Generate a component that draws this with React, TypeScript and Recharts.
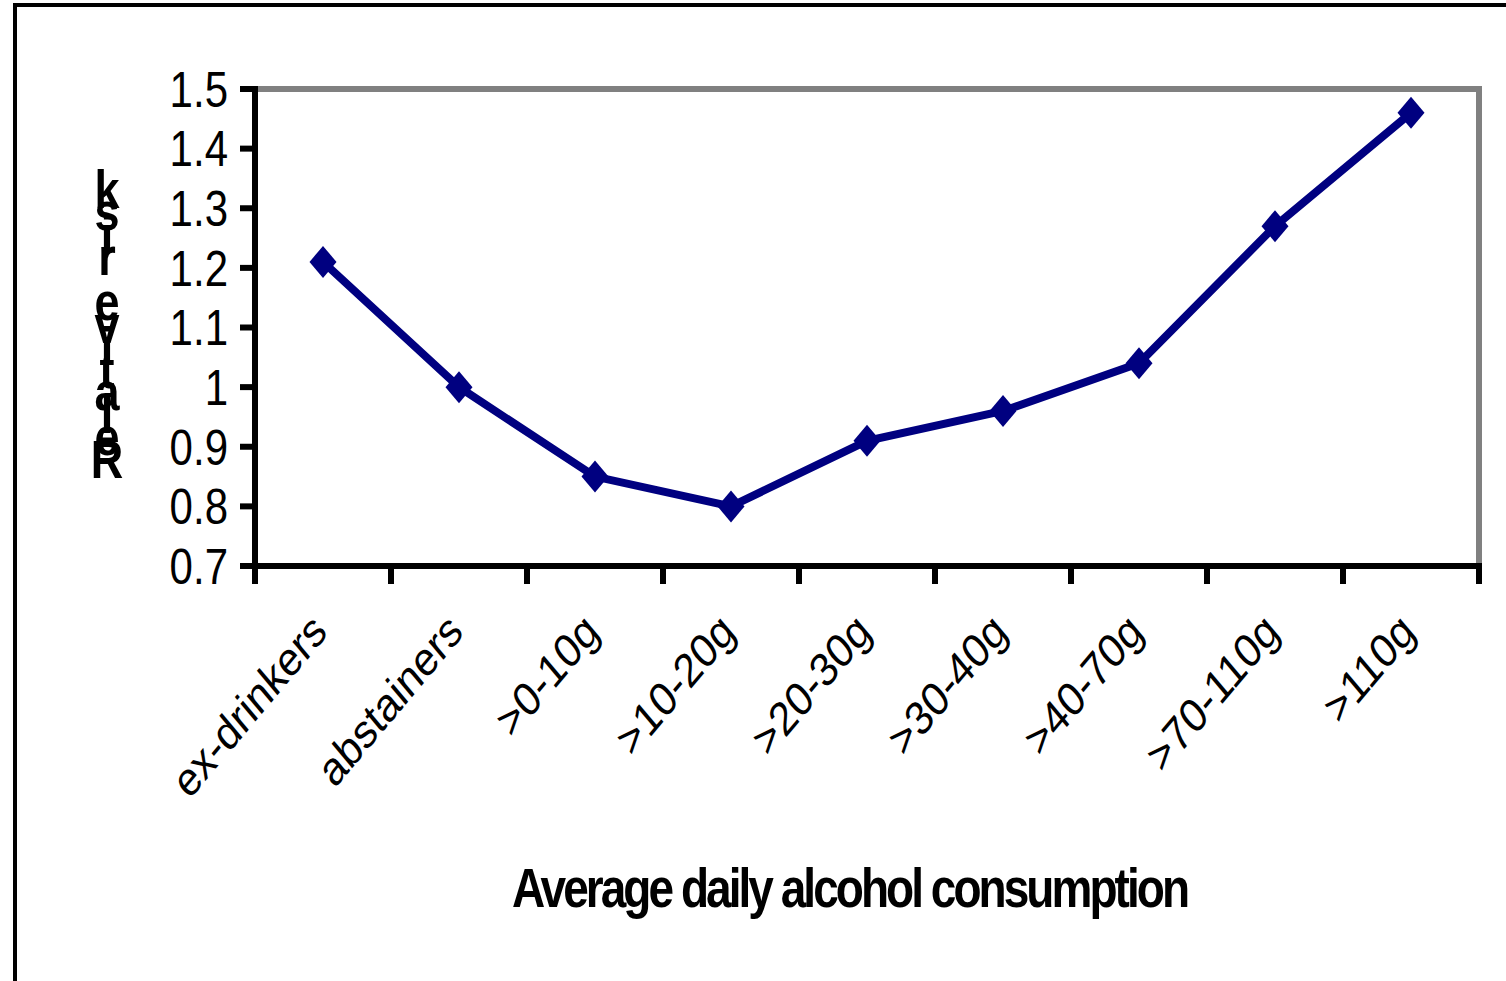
import React from 'react';
import { LineChart, Line, XAxis, YAxis } from 'recharts';

const categories = ['ex-drinkers', 'abstainers', '>0-10g', '>10-20g', '>20-30g', '>30-40g', '>40-70g', '>70-110g', '>110g'];
const relativeRisk = [1.21, 1.0, 0.85, 0.8, 0.91, 0.96, 1.04, 1.27, 1.46];
const yTicks = [0.7, 0.8, 0.9, 1.0, 1.1, 1.2, 1.3, 1.4, 1.5];
const xTitle = 'Average daily alcohol consumption';
const yTitle = 'Relative risk';

const data = categories.map((group, i) => ({ group, rr: relativeRisk[i] }));

const W = 1506;
const H = 981;
const PLOT_LEFT = 255;
const PLOT_RIGHT = 1479;
const PLOT_TOP = 89;
const PLOT_BOTTOM = 566;
const BAND = (PLOT_RIGHT - PLOT_LEFT) / categories.length;
// text in this figure is drawn a bit taller than wide
const STRETCH = 1.19;
const FONT = '"Liberation Sans", Arial, sans-serif';
const NAVY = '#000080';
const GREY = '#808080';

const formatRisk = (v: number) => String(Number(v.toFixed(1)));

const RiskTick = ({ x, y, payload }: any) => (
  <text
    transform={`translate(${x},${y}) scale(1,${STRETCH})`}
    x={0}
    y={15}
    textAnchor="end"
    fontFamily={FONT}
    fontSize={42}
    fill="#000"
  >
    {formatRisk(payload.value)}
  </text>
);

// tick marks sit on the group boundaries, labels under the group centre
const GroupTick = ({ x, y, payload, index }: any) => {
  const left = x - BAND / 2;
  const right = x + BAND / 2;
  return (
    <g>
      <line x1={left} x2={left} y1={y} y2={y + 18} stroke="#000" strokeWidth={6} />
      {index === categories.length - 1 && (
        <line x1={right} x2={right} y1={y} y2={y + 18} stroke="#000" strokeWidth={6} />
      )}
      <text
        transform={`translate(${x + 6},${y + 68}) scale(1,${STRETCH}) rotate(-45)`}
        x={0}
        y={0}
        textAnchor="end"
        fontFamily={FONT}
        fontSize={40}
        fill="#000"
      >
        {payload.value}
      </text>
    </g>
  );
};

// letters stacked upright, reading from the bottom up
const RiskTitle = () => (
  <g transform={`translate(107,0) scale(1,${STRETCH})`}>
    {yTitle.split('').map((ch, i) => (
      <text
        key={i}
        x={0}
        y={(478 - i * 22.5) / STRETCH}
        textAnchor="middle"
        fontFamily={FONT}
        fontWeight="bold"
        fontSize={45}
        fill="#000"
      >
        {ch}
      </text>
    ))}
  </g>
);

const ConsumptionTitle = () => (
  <text
    transform={`translate(512,907) scale(1,${STRETCH})`}
    x={0}
    y={0}
    textLength={678}
    lengthAdjust="spacing"
    fontFamily={FONT}
    fontWeight="bold"
    fontSize={46}
    fill="#000"
  >
    {xTitle}
  </text>
);

const Diamond = ({ cx, cy }: any) => {
  if (cx == null || cy == null) return null;
  return (
    <polygon
      points={`${cx},${cy - 16} ${cx + 13.5},${cy} ${cx},${cy + 16} ${cx - 13.5},${cy}`}
      fill={NAVY}
    />
  );
};

const App = () => {
  const xAxisHeight = 200;
  return (
    <div style={{ position: 'absolute', left: 0, top: 0, width: W, height: H, overflow: 'hidden', background: '#fff' }}>
      <div
        style={{
          position: 'absolute',
          left: 13,
          top: 3,
          width: 2000,
          height: 2000,
          borderTop: '4px solid #000',
          borderLeft: '4px solid #000',
        }}
      />
      <LineChart
        width={W}
        height={H}
        data={data}
        style={{ position: 'absolute', left: 0, top: 0 }}
        margin={{ top: PLOT_TOP - 1, right: W - PLOT_RIGHT - 1, bottom: H - PLOT_BOTTOM - xAxisHeight, left: 0 }}
      >
        {/* grey frame on the top and right of the plot */}
        <XAxis
          xAxisId="top"
          orientation="top"
          dataKey="group"
          scale="band"
          height={1}
          tick={false}
          tickLine={false}
          axisLine={{ stroke: GREY, strokeWidth: 6, strokeLinecap: 'square' }}
        />
        <YAxis
          yAxisId="right"
          orientation="right"
          width={1}
          type="number"
          domain={[0.7, 1.5]}
          tick={false}
          tickLine={false}
          axisLine={{ stroke: GREY, strokeWidth: 6, strokeLinecap: 'square' }}
        />
        <XAxis
          dataKey="group"
          scale="band"
          height={xAxisHeight}
          interval={0}
          tickSize={0}
          tickMargin={0}
          tickLine={false}
          tick={<GroupTick />}
          axisLine={{ stroke: '#000', strokeWidth: 6, strokeLinecap: 'square' }}
          label={<ConsumptionTitle />}
        />
        <YAxis
          width={PLOT_LEFT}
          type="number"
          domain={[0.7, 1.5]}
          ticks={yTicks}
          interval={0}
          tickSize={15}
          tickMargin={12}
          tick={<RiskTick />}
          tickLine={{ stroke: '#000', strokeWidth: 6 }}
          axisLine={{ stroke: '#000', strokeWidth: 6, strokeLinecap: 'square' }}
          label={<RiskTitle />}
        />
        <Line
          type="linear"
          dataKey="rr"
          stroke={NAVY}
          strokeWidth={8}
          dot={(p: any) => <Diamond key={p.index} {...p} />}
          activeDot={false}
          isAnimationActive={false}
        />
      </LineChart>
    </div>
  );
};

export default App;
